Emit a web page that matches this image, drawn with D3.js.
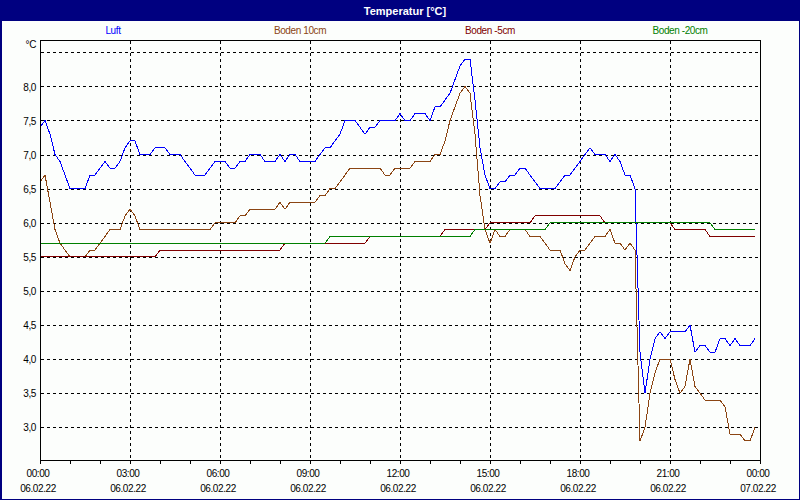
<!DOCTYPE html>
<html>
<head>
<meta charset="utf-8">
<title>Temperatur</title>
<script src="https://cdnjs.cloudflare.com/ajax/libs/d3/7.8.5/d3.min.js"></script>
<style>
    html, body { margin: 0; padding: 0; background: #ffffff; }
    svg { display: block; }
</style>
</head>
<body>
<div id="chart"></div>
<script>
// Messwerte 06.02.22, alle 10 Minuten (144 Werte je Reihe)
var LUFT = [
    7.4, 7.5, 7.3, 7.0, 6.9, 6.7, 6.5, 6.5, 6.5, 6.5,
    6.7, 6.7, 6.8, 6.9, 6.8, 6.8, 6.9, 7.1, 7.2, 7.2,
    7.0, 7.0, 7.0, 7.1, 7.1, 7.1, 7.0, 7.0, 7.0, 6.9,
    6.8, 6.7, 6.7, 6.7, 6.8, 6.9, 6.9, 6.9, 6.8, 6.8,
    6.9, 6.9, 7.0, 7.0, 7.0, 6.9, 6.9, 6.9, 7.0, 6.9,
    7.0, 7.0, 6.9, 6.9, 6.9, 6.9, 7.0, 7.1, 7.1, 7.2,
    7.3, 7.5, 7.5, 7.5, 7.4, 7.3, 7.4, 7.4, 7.5, 7.5,
    7.5, 7.5, 7.6, 7.5, 7.5, 7.6, 7.6, 7.6, 7.5, 7.7,
    7.7, 7.8, 7.9, 8.1, 8.3, 8.4, 8.4, 7.8, 7.1, 6.7,
    6.5, 6.5, 6.6, 6.6, 6.7, 6.7, 6.8, 6.8, 6.7, 6.6,
    6.5, 6.5, 6.5, 6.5, 6.6, 6.7, 6.7, 6.8, 6.9, 7.0,
    7.1, 7.0, 7.0, 7.0, 6.9, 7.0, 6.9, 6.7, 6.7, 6.5,
    4.1, 3.5, 4.0, 4.3, 4.4, 4.3, 4.4, 4.4, 4.4, 4.4,
    4.5, 4.1, 4.2, 4.2, 4.1, 4.1, 4.3, 4.3, 4.2, 4.3,
    4.2, 4.2, 4.2, 4.3
];
var BODEN_10 = [
    6.6, 6.7, 6.3, 5.9, 5.7, 5.6, 5.5, 5.5, 5.5, 5.5,
    5.6, 5.6, 5.7, 5.8, 5.9, 5.9, 5.9, 6.1, 6.2, 6.1,
    5.9, 5.9, 5.9, 5.9, 5.9, 5.9, 5.9, 5.9, 5.9, 5.9,
    5.9, 5.9, 5.9, 5.9, 5.9, 6.0, 6.0, 6.0, 6.0, 6.0,
    6.1, 6.1, 6.2, 6.2, 6.2, 6.2, 6.2, 6.2, 6.3, 6.2,
    6.3, 6.3, 6.3, 6.3, 6.3, 6.3, 6.4, 6.4, 6.5, 6.5,
    6.6, 6.7, 6.8, 6.8, 6.8, 6.8, 6.8, 6.8, 6.8, 6.7,
    6.7, 6.8, 6.8, 6.8, 6.8, 6.9, 6.9, 6.9, 6.9, 7.0,
    7.0, 7.2, 7.5, 7.7, 7.9, 8.0, 7.9, 7.3, 6.4, 5.9,
    5.7, 5.9, 5.8, 5.8, 5.9, 5.9, 5.9, 5.9, 5.8, 5.8,
    5.8, 5.7, 5.6, 5.6, 5.6, 5.4, 5.3, 5.5, 5.6, 5.6,
    5.7, 5.8, 5.8, 5.8, 5.9, 5.7, 5.7, 5.6, 5.7, 5.6,
    2.8, 3.0, 3.5, 3.8, 4.0, 4.0, 4.0, 3.7, 3.5, 3.6,
    4.0, 3.6, 3.5, 3.4, 3.4, 3.4, 3.4, 3.3, 2.9, 2.9,
    2.9, 2.8, 2.8, 3.0
];
var BODEN_M5 = [
    5.5, 5.5, 5.5, 5.5, 5.5, 5.5, 5.5, 5.5, 5.5, 5.5,
    5.5, 5.5, 5.5, 5.5, 5.5, 5.5, 5.5, 5.5, 5.5, 5.5,
    5.5, 5.5, 5.5, 5.5, 5.6, 5.6, 5.6, 5.6, 5.6, 5.6,
    5.6, 5.6, 5.6, 5.6, 5.6, 5.6, 5.6, 5.6, 5.6, 5.6,
    5.6, 5.6, 5.6, 5.6, 5.6, 5.6, 5.6, 5.6, 5.6, 5.7,
    5.7, 5.7, 5.7, 5.7, 5.7, 5.7, 5.7, 5.7, 5.7, 5.7,
    5.7, 5.7, 5.7, 5.7, 5.7, 5.7, 5.8, 5.8, 5.8, 5.8,
    5.8, 5.8, 5.8, 5.8, 5.8, 5.8, 5.8, 5.8, 5.8, 5.8,
    5.8, 5.9, 5.9, 5.9, 5.9, 5.9, 5.9, 5.9, 5.9, 5.9,
    6.0, 6.0, 6.0, 6.0, 6.0, 6.0, 6.0, 6.0, 6.0, 6.1,
    6.1, 6.1, 6.1, 6.1, 6.1, 6.1, 6.1, 6.1, 6.1, 6.1,
    6.1, 6.1, 6.1, 6.0, 6.0, 6.0, 6.0, 6.0, 6.0, 6.0,
    6.0, 6.0, 6.0, 6.0, 6.0, 6.0, 6.0, 5.9, 5.9, 5.9,
    5.9, 5.9, 5.9, 5.9, 5.8, 5.8, 5.8, 5.8, 5.8, 5.8,
    5.8, 5.8, 5.8, 5.8
];
var BODEN_M20 = [
    5.7, 5.7, 5.7, 5.7, 5.7, 5.7, 5.7, 5.7, 5.7, 5.7,
    5.7, 5.7, 5.7, 5.7, 5.7, 5.7, 5.7, 5.7, 5.7, 5.7,
    5.7, 5.7, 5.7, 5.7, 5.7, 5.7, 5.7, 5.7, 5.7, 5.7,
    5.7, 5.7, 5.7, 5.7, 5.7, 5.7, 5.7, 5.7, 5.7, 5.7,
    5.7, 5.7, 5.7, 5.7, 5.7, 5.7, 5.7, 5.7, 5.7, 5.7,
    5.7, 5.7, 5.7, 5.7, 5.7, 5.7, 5.7, 5.7, 5.8, 5.8,
    5.8, 5.8, 5.8, 5.8, 5.8, 5.8, 5.8, 5.8, 5.8, 5.8,
    5.8, 5.8, 5.8, 5.8, 5.8, 5.8, 5.8, 5.8, 5.8, 5.8,
    5.8, 5.8, 5.8, 5.8, 5.8, 5.8, 5.8, 5.9, 5.9, 5.9,
    5.9, 5.9, 5.9, 5.9, 5.9, 5.9, 5.9, 5.9, 5.9, 5.9,
    5.9, 5.9, 6.0, 6.0, 6.0, 6.0, 6.0, 6.0, 6.0, 6.0,
    6.0, 6.0, 6.0, 6.0, 6.0, 6.0, 6.0, 6.0, 6.0, 6.0,
    6.0, 6.0, 6.0, 6.0, 6.0, 6.0, 6.0, 6.0, 6.0, 6.0,
    6.0, 6.0, 6.0, 6.0, 6.0, 5.9, 5.9, 5.9, 5.9, 5.9,
    5.9, 5.9, 5.9, 5.9
];
var SERIES_NAMES = ["Luft", "Boden 10cm", "Boden -5cm", "Boden -20cm"];
var SERIES_COLORS = ["#0000ff", "#8b4513", "#800000", "#008000"];
var Y_LABEL_TICKS = [3.0, 3.5, 4.0, 4.5, 5.0, 5.5, 6.0, 6.5, 7.0, 7.5, 8.0];
var Y_GRID_TICKS = [3.0, 3.5, 4.0, 4.5, 5.0, 5.5, 6.0, 6.5, 7.0, 7.5, 8.0, 8.5];
var START_TIME = new Date(2022, 1, 6, 0, 0);
var END_TIME = new Date(2022, 1, 7, 0, 0);
var STEP_MINUTES = 10;
var TITLE = "Temperatur [°C]";
var UNIT = "°C";

window.onload = function () {
    var chart = new Wetter.Chart();
};

var Wetter;
(function (Wetter) {
    var Chart = (function () {
        function Chart() {
            this.series = [LUFT, BODEN_10, BODEN_M5, BODEN_M20];
            this.buildSvg();
            this.buildScales();
            this.drawGrid();
            this.drawAxes();
            this.drawSeries();
            this.drawFrame();
            this.drawLegend();
        }

        Chart.prototype.buildSvg = function () {
            this.svg = d3.select("#chart").append("svg")
                .attr("width", Chart.width).attr("height", Chart.height)
                .style("font-family", Chart.font).style("font-size", Chart.fontSize)
                .style("letter-spacing", Chart.letterSpacing);

            this.svg.append("rect").attr("width", Chart.width).attr("height", Chart.height).attr("fill", "#fcfefc");
            this.svg.append("rect").attr("width", Chart.width).attr("height", 21).attr("fill", Chart.navy);
            this.svg.append("text").attr("x", 405).attr("y", 14.5)
                .attr("text-anchor", "middle").attr("fill", "#ffffff")
                .style("font-size", "11px").style("letter-spacing", "0px")
                .style("font-weight", "bold")
                .text(TITLE);
        };

        Chart.prototype.buildScales = function () {
            this.x = d3.scaleTime().domain([START_TIME, END_TIME]).range([Chart.left, Chart.right]);
            this.y = d3.scaleLinear().domain([3.0, 8.5]).range([427.3, 52.3]);
        };

        Chart.prototype.timeAt = function (i) {
            return d3.timeMinute.offset(START_TIME, i * STEP_MINUTES);
        };

        Chart.prototype.drawGrid = function () {
            var _this = this;
            var grid = this.svg.append("g").attr("stroke", "#000000").attr("stroke-dasharray", "3,3")
                .attr("shape-rendering", "crispEdges");

            grid.selectAll("line.h").data(Y_GRID_TICKS).enter().append("line").attr("class", "h")
                .attr("x1", Chart.left + 1).attr("x2", Chart.right)
                .attr("y1", function (d) { return Math.round(_this.y(d)) + 0.5; })
                .attr("y2", function (d) { return Math.round(_this.y(d)) + 0.5; });

            var hours = d3.timeHour.every(3).range(d3.timeHour.offset(START_TIME, 1), END_TIME);
            grid.selectAll("line.v").data(hours).enter().append("line").attr("class", "v")
                .attr("x1", function (d) { return Math.round(_this.x(d)) + 0.5; })
                .attr("x2", function (d) { return Math.round(_this.x(d)) + 0.5; })
                .attr("y1", Chart.top + 1).attr("y2", Chart.bottom);
        };

        Chart.prototype.drawAxes = function () {
            var _this = this;
            var fmt = d3.formatLocale({ decimal: ",", thousands: ".", grouping: [3], currency: ["", " €"] }).format(".1f");

            var xAxis = d3.axisBottom(this.x).ticks(d3.timeHour.every(1)).tickSize(4).tickFormat("");
            this.svg.append("g").attr("transform", "translate(0," + Chart.bottom + ")")
                .call(xAxis).call(function (g) { g.select(".domain").remove(); })
                .selectAll("line").attr("stroke", "#000000").attr("shape-rendering", "crispEdges");

            var labelTimes = d3.timeHour.every(3).range(START_TIME, d3.timeMinute.offset(END_TIME, 1));
            var timeFmt = d3.timeFormat("%H:%M");
            var dateFmt = d3.timeFormat("%d.%m.%y");
            var labels = this.svg.append("g").attr("text-anchor", "middle").attr("fill", "#000000");
            labels.selectAll("text.time").data(labelTimes).enter().append("text").attr("class", "time")
                .attr("x", function (d) { return _this.x(d) - 2; }).attr("y", 477)
                .text(function (d) { return timeFmt(d); });
            labels.selectAll("text.date").data(labelTimes).enter().append("text").attr("class", "date")
                .attr("x", function (d) { return _this.x(d) - 2; }).attr("y", 492)
                .text(function (d) { return dateFmt(d); });

            var yAxis = d3.axisLeft(this.y).tickValues(Y_LABEL_TICKS).tickSize(0).tickPadding(4).tickFormat(fmt);
            this.svg.append("g").attr("transform", "translate(" + Chart.left + ",0)")
                .call(yAxis).call(function (g) { g.select(".domain").remove(); })
                .selectAll("text").attr("fill", "#000000")
                .style("font-family", Chart.font).style("font-size", Chart.fontSize)
                .attr("dy", "0.36em");

            this.svg.append("text").attr("x", 36).attr("y", 47.5).attr("text-anchor", "end").text(UNIT);
        };

        Chart.prototype.drawSeries = function () {
            var _this = this;
            var line = d3.line()
                .x(function (d, i) { return _this.x(_this.timeAt(i)); })
                .y(function (d) { return _this.y(d); });

            this.svg.append("g").selectAll("path").data(this.series).enter().append("path")
                .attr("d", function (d) { return line(d); })
                .attr("fill", "none")
                .attr("stroke", function (d, i) { return SERIES_COLORS[i]; })
                .attr("stroke-width", 1)
                .attr("shape-rendering", "crispEdges");
        };

        Chart.prototype.drawFrame = function () {
            this.svg.append("rect")
                .attr("x", Chart.left + 0.5).attr("y", Chart.top + 0.5)
                .attr("width", Chart.right - Chart.left).attr("height", Chart.bottom - Chart.top)
                .attr("fill", "none").attr("stroke", "#000000").attr("shape-rendering", "crispEdges");

            var border = this.svg.append("g").attr("fill", Chart.navy);
            border.append("rect").attr("x", 0).attr("y", 0).attr("width", 2).attr("height", Chart.height);
            border.append("rect").attr("x", Chart.width - 1).attr("y", 0).attr("width", 1).attr("height", Chart.height);
            border.append("rect").attr("x", 0).attr("y", Chart.height - 1).attr("width", Chart.width).attr("height", 1);
        };

        Chart.prototype.drawLegend = function () {
            this.svg.append("g").attr("text-anchor", "middle").selectAll("text")
                .data(SERIES_NAMES).enter().append("text")
                .attr("x", function (d, i) { return Chart.legendX[i]; }).attr("y", 34)
                .attr("fill", function (d, i) { return SERIES_COLORS[i]; })
                .text(function (d) { return d; });
        };

        Chart.width = 800;
        Chart.height = 500;
        Chart.left = 40;
        Chart.right = 760;
        Chart.top = 40;
        Chart.bottom = 460;
        Chart.navy = "#000080";
        Chart.font = "'Liberation Sans', Arial, sans-serif";
        Chart.fontSize = "10px";
        Chart.letterSpacing = "-0.4px";
        Chart.legendX = [113, 300, 490, 680];
        return Chart;
    })();
    Wetter.Chart = Chart;
})(Wetter || (Wetter = {}));
</script>
</body>
</html>
